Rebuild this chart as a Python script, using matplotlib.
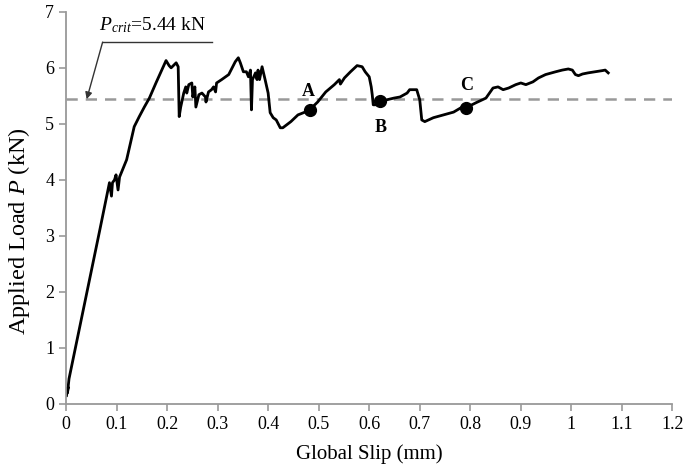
import matplotlib
matplotlib.use("Agg")
import matplotlib.pyplot as plt

# Load–slip response (global slip in mm, applied load in kN)
slip = [0.001, 0.004, 0.003, 0.006, 0.067, 0.086, 0.090, 0.092, 0.096, 0.099,
        0.103, 0.106, 0.120, 0.135, 0.145, 0.155, 0.165, 0.178, 0.188, 0.198,
        0.204, 0.208, 0.218, 0.222, 0.224, 0.227, 0.233, 0.237, 0.239, 0.243,
        0.249, 0.251, 0.255, 0.257, 0.263, 0.269, 0.276, 0.277, 0.282, 0.288,
        0.292, 0.296, 0.298, 0.308, 0.322, 0.335, 0.341, 0.345, 0.351, 0.357,
        0.361, 0.365, 0.367, 0.369, 0.375, 0.378, 0.380, 0.383, 0.388, 0.394,
        0.400, 0.404, 0.410, 0.416, 0.424, 0.429, 0.445, 0.459, 0.473, 0.482,
        0.498, 0.514, 0.531, 0.541, 0.543, 0.551, 0.563, 0.576, 0.586, 0.592,
        0.600, 0.604, 0.606, 0.608, 0.612, 0.622, 0.635, 0.649, 0.661, 0.675,
        0.680, 0.694, 0.700, 0.704, 0.710, 0.727, 0.747, 0.767, 0.782, 0.792,
        0.812, 0.831, 0.845, 0.855, 0.865, 0.876, 0.890, 0.900, 0.910, 0.924,
        0.935, 0.949, 0.969, 0.982, 0.994, 1.002, 1.008, 1.014, 1.022, 1.033,
        1.047, 1.061, 1.067, 1.073]
load = [0.15, 0.30, 0.20, 0.45, 3.11, 3.95, 3.71, 3.95, 4.00, 4.09,
        3.82, 4.05, 4.36, 4.95, 5.13, 5.30, 5.46, 5.73, 5.93, 6.13,
        6.04, 6.00, 6.09, 6.02, 5.13, 5.30, 5.55, 5.66, 5.55, 5.70,
        5.73, 5.48, 5.66, 5.30, 5.52, 5.55, 5.48, 5.39, 5.57, 5.61,
        5.66, 5.57, 5.73, 5.79, 5.88, 6.11, 6.18, 6.09, 5.93, 5.93,
        5.84, 5.96, 5.25, 5.79, 5.91, 5.79, 5.96, 5.79, 6.02, 5.79,
        5.55, 5.20, 5.11, 5.07, 4.93, 4.93, 5.04, 5.16, 5.21, 5.25,
        5.39, 5.57, 5.70, 5.79, 5.71, 5.82, 5.93, 6.04, 6.02, 5.93,
        5.84, 5.66, 5.52, 5.34, 5.34, 5.41, 5.43, 5.46, 5.48, 5.55,
        5.61, 5.61, 5.43, 5.07, 5.04, 5.11, 5.16, 5.21, 5.29, 5.29,
        5.38, 5.46, 5.64, 5.66, 5.61, 5.64, 5.70, 5.73, 5.70, 5.75,
        5.82, 5.88, 5.93, 5.96, 5.98, 5.96, 5.88, 5.86, 5.89, 5.91,
        5.93, 5.95, 5.96, 5.91]

# Marked states on the curve
point_labels = ["A", "B", "C"]
point_slip = [0.482, 0.622, 0.792]
point_load = [5.25, 5.41, 5.29]

p_crit = 5.44

x_ticks = [0, 0.1, 0.2, 0.3, 0.4, 0.5, 0.6, 0.7, 0.8, 0.9, 1, 1.1, 1.2]
x_tick_labels = ["0", "0.1", "0.2", "0.3", "0.4", "0.5", "0.6", "0.7", "0.8",
                 "0.9", "1", "1.1", "1.2"]
y_ticks = [0, 1, 2, 3, 4, 5, 6, 7]

plt.rcParams["font.family"] = ["Liberation Serif", "DejaVu Serif"]
plt.rcParams["mathtext.fontset"] = "custom"
plt.rcParams["mathtext.rm"] = "Liberation Serif"
plt.rcParams["mathtext.it"] = "Liberation Serif:italic"
plt.rcParams["mathtext.bf"] = "Liberation Serif:bold"

fig = plt.figure(figsize=(6.86, 4.73), dpi=100)
ax = fig.add_axes([0.0962, 0.146, 0.884, 0.829])

ax.axhline(p_crit, color="#999999", lw=1.8, dashes=(4.5, 3.2), zorder=1)
ax.plot(slip, load, color="black", lw=2.0, zorder=2, solid_joinstyle="round")
ax.plot(point_slip, point_load, "o", color="black", ms=8.5, zorder=3)

label_offsets = {"A": (-0.003, 0.32), "B": (0.0, -0.48), "C": (0.0, 0.40)}
for lab, xs, yl in zip(point_labels, point_slip, point_load):
    dx, dy = label_offsets[lab]
    ax.text(xs + dx, yl + dy, lab, fontsize=13, fontweight="bold",
            ha="center", va="center")

# Critical-load callout
ax.plot([0.0725, 0.288], [6.46, 6.46], color="#333333", lw=1.0)
ax.annotate("", xy=(0.041, p_crit), xytext=(0.0725, 6.46),
            arrowprops=dict(arrowstyle="-|>", color="#333333", lw=1.0,
                            mutation_scale=10, shrinkA=0, shrinkB=0))
ax.text(0.066, 6.76, r"$P_{crit}$=5.44 kN", fontsize=14, ha="left",
        va="center")

ax.set_xlim(0, 1.2)
ax.set_ylim(0, 7)
ax.set_xticks(x_ticks)
ax.set_xticklabels(x_tick_labels)
ax.set_yticks(y_ticks)

for side in ["top", "right"]:
    ax.spines[side].set_visible(False)
for side in ["left", "bottom"]:
    ax.spines[side].set_color("#999999")
    ax.spines[side].set_linewidth(1.3)
ax.tick_params(axis="both", colors="#999999", labelcolor="black",
               labelsize=13, length=5, width=1.2, direction="out")
ax.tick_params(axis="x", pad=4)

ax.set_xlabel("Global Slip (mm)", fontsize=15, labelpad=8)
ax.set_ylabel(r"Applied Load $P$ (kN)", fontsize=17.5)
ax.yaxis.set_label_coords(-0.056, 0.44)

fig.savefig("out.png", dpi=100)
